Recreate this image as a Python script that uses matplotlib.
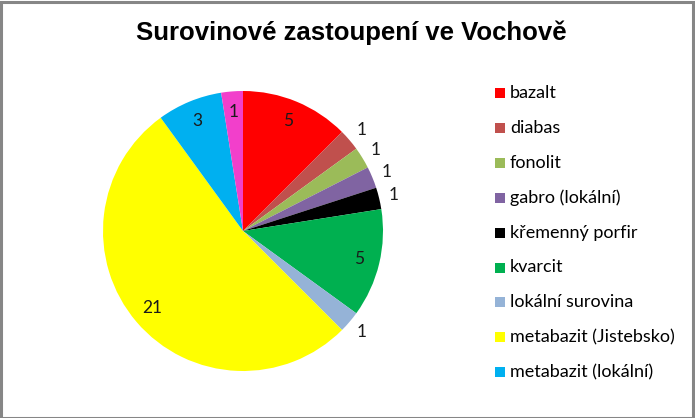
import numpy as np
import matplotlib.pyplot as plt
from matplotlib.patches import Rectangle

plt.rcParams['font.family'] = ['Lato', 'DejaVu Sans']

# data
labels = ['bazalt', 'diabas', 'fonolit', 'gabro (lokální)', 'křemenný porfir',
          'kvarcit', 'lokální surovina', 'metabazit (Jistebsko)',
          'metabazit (lokální)', '']
counts = [5, 1, 1, 1, 1, 5, 1, 21, 3, 1]
colors = ['#FF0000', '#C0504D', '#9BBB59', '#8064A2', '#000000',
          '#00B050', '#95B3D7', '#FFFF00', '#00B0F0', '#F23FCB']
# which value labels sit outside the pie
outside = [False, True, True, True, True, False, True, False, False, False]

W, H = 695, 418
fig = plt.figure(figsize=(W / 100, H / 100), dpi=100)

# grey frame round the whole chart
fig.patches.append(Rectangle((0.5 / W, 0.5 / H), 1 - 2.5 / W, 1 - 2.5 / H,
                             transform=fig.transFigure, fill=False,
                             edgecolor='#868686', linewidth=2.2))

fig.text(351 / W, 1 - 33 / H, 'Surovinové zastoupení ve Vochově',
         ha='center', va='center', fontsize=18.5, fontweight='bold',
         family='Liberation Sans')

# pie: centre (243, 231), radius ~140 px
cx, cy, r = 243, 231, 140
ax = fig.add_axes([(cx - r) / W, 1 - (cy + r) / H, 2 * r / W, 2 * r / H])
wedges, _ = ax.pie(counts, colors=colors, startangle=90, counterclock=False,
                   wedgeprops=dict(linewidth=0))
ax.set_aspect('equal')
ax.set_xlim(-1, 1)
ax.set_ylim(-1, 1)
ax.axis('off')

for w, v, out in zip(wedges, counts, outside):
    ang = np.deg2rad((w.theta1 + w.theta2) / 2)
    d = 1.11 if out else 0.85
    ax.text(d * np.cos(ang), d * np.sin(ang), str(v), ha='center', va='center',
            fontsize=12.5, color='#1a1a1a', clip_on=False)

# legend
y0, dy = 93, 34.9
for i, (lab, col) in enumerate(zip(labels, colors)):
    if not lab:
        continue
    y = y0 + i * dy
    fig.patches.append(Rectangle((495 / W, 1 - (y + 5) / H), 10 / W, 10 / H,
                                 transform=fig.transFigure, facecolor=col,
                                 edgecolor='none'))
    fig.text(510 / W, 1 - y / H, lab, ha='left', va='center', fontsize=13)

fig.savefig('out.png', dpi=100, facecolor='white')
